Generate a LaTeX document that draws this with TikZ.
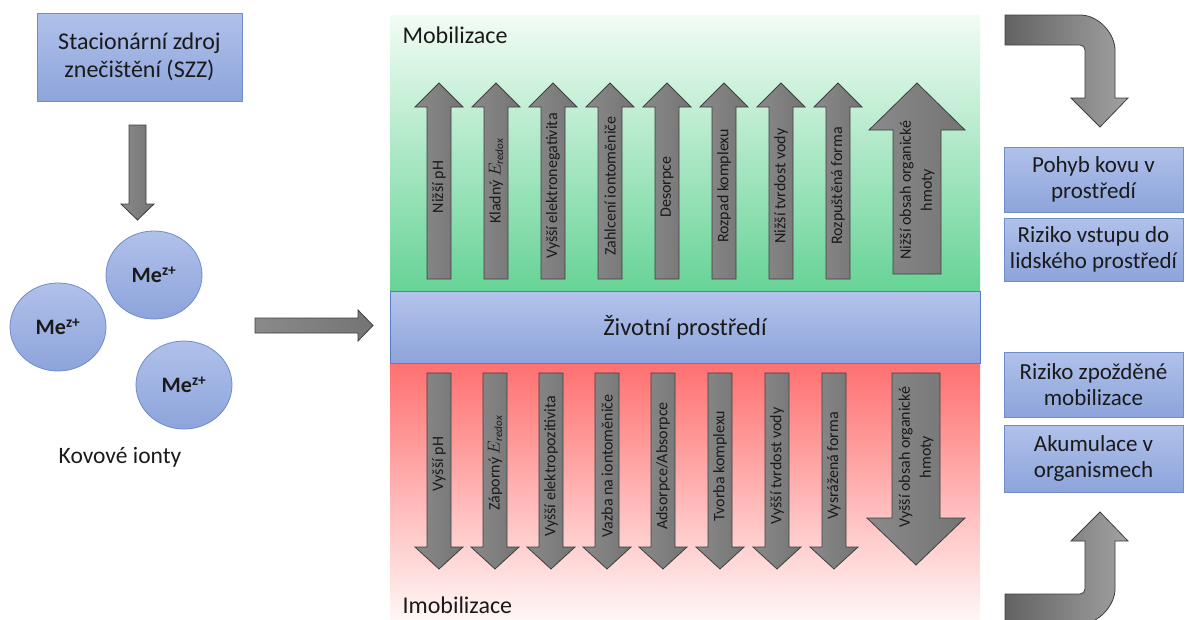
\documentclass[tikz,border=0pt]{standalone}
\usepackage{fontspec}
\setmainfont{Carlito}
\usetikzlibrary{shapes.geometric}
\definecolor{bluetop}{HTML}{B0C1EA}
\definecolor{bluebot}{HTML}{8DA4DB}
\definecolor{blueline}{HTML}{6F8CCB}
\definecolor{bandline}{HTML}{5A7CC6}
\definecolor{greentop}{HTML}{F2FCF5}
\definecolor{greenbot}{HTML}{66D396}
\definecolor{redtop}{HTML}{FF7070}
\definecolor{redbot}{HTML}{FFF6F6}
\definecolor{arrL}{HTML}{8A8A8A}
\definecolor{arrR}{HTML}{747474}
\definecolor{arrline}{HTML}{3F3F3F}
\definecolor{txt}{HTML}{1A1A1A}
\tikzset{
  bluebox/.style={rectangle, draw=blueline, line width=0.8pt, top color=bluetop, bottom color=bluebot, text=txt, align=center, inner sep=0pt},
  ion/.style={ellipse, draw=blueline, line width=0.8pt, top color=bluetop, bottom color=bluebot, text=txt, inner sep=0pt, minimum width=96pt, minimum height=88pt, font=\fontsize{22}{24}\selectfont\bfseries},
  blockarrow/.style={draw=arrline, line width=0.8pt, left color=arrL, right color=arrR},
  curvearrow/.style={draw=arrline, line width=0.8pt, left color=arrR!85!black, right color=arrL!80!white},
  arrlabel/.style={rotate=90, text=txt, align=center, inner sep=0pt, font=\fontsize{16}{21}\selectfont},
  boxtext/.style={font=\fontsize{23}{26}\selectfont},
}
% vertical block arrow: cx, tail y, head-base y, tip y, half shaft, half head
\newcommand{\varrow}[6]{%
  \path[blockarrow] (#1-#5,#2) -- (#1-#5,#3) -- (#1-#6,#3) -- (#1,#4) -- (#1+#6,#3) -- (#1+#5,#3) -- (#1+#5,#2) -- cycle;}
% horizontal block arrow: cy, tail x, head-base x, tip x, half shaft, half head
\newcommand{\harrow}[6]{%
  \path[blockarrow] (#2,#1-#5) -- (#3,#1-#5) -- (#3,#1-#6) -- (#4,#1) -- (#3,#1+#6) -- (#3,#1+#5) -- (#2,#1+#5) -- cycle;}
\begin{document}
\begin{tikzpicture}[x=1pt,y=-1pt]
\useasboundingbox (0,0) rectangle (1187,619);
\fill[white] (0,0) rectangle (1187,619);

% ---------------- left part ----------------
\node[bluebox, minimum width=205pt, minimum height=88pt, font=\fontsize{24}{28}\selectfont] (szz) at (139.5,57) {Stacionární zdroj\\znečištění (SZZ)};
\varrow{137.5}{125}{204}{220}{8.5}{16.5}

\node[ion] (me1) at (154,275) {Me\textsuperscript{z+}};
\node[ion] (me2) at (58,327) {Me\textsuperscript{z+}};
\node[ion] (me3) at (184,385) {Me\textsuperscript{z+}};
\node[text=txt, font=\fontsize{23.5}{26}\selectfont, anchor=base] (kov) at (120,463) {Kovové ionty};

\harrow{325.5}{255}{358}{373}{7.5}{15.5}

% ---------------- central part ----------------
\path[top color=greentop, bottom color=greenbot] (390,15) rectangle (980,291);
\path[top color=redtop, bottom color=redbot] (390,363) rectangle (980,619);
\node[rectangle, draw=bandline, line width=0.8pt, top color=bluetop!95!white, bottom color=bluebot, minimum width=590pt, minimum height=72pt, inner sep=0pt, text=txt, font=\fontsize{24.5}{28}\selectfont] (env) at (685,327) {Životní prostředí};
\node[anchor=base west, text=txt, font=\fontsize{24}{26}\selectfont] (mob) at (399,43) {Mobilizace};
\node[anchor=base west, text=txt, font=\fontsize{24}{26}\selectfont] (imob) at (399,613) {Imobilizace};

% upward arrows (mobilization)
\foreach \cx in {439,496,553,610,667,724,781,838}{\varrow{\cx}{279}{107}{83}{12}{24}}
\varrow{917}{274}{130}{83}{24}{48}
\node[arrlabel] (u1) at (439,187) {Nižší pH};
\node[arrlabel] (u2) at (496,181) {Kladný $E_{\mathit{redox}}$};
\node[arrlabel] (u3) at (553,186) {Vyšší elektronegativita};
\node[arrlabel] (u4) at (610,186) {Zahlcení iontoměniče};
\node[arrlabel] (u5) at (667,187) {Desorpce};
\node[arrlabel] (u6) at (724,186) {Rozpad komplexu};
\node[arrlabel] (u7) at (781,186) {Nižší tvrdost vody};
\node[arrlabel] (u8) at (838,186) {Rozpuštěná forma};
\node[arrlabel] (u9) at (917,190) {Nižší obsah organické\\hmoty};

% downward arrows (immobilization)
\foreach \cx in {439,495,551,607,663,720,777,834}{\varrow{\cx}{373}{547}{569}{12}{24}}
\varrow{916}{373}{518}{565}{24}{49}
\node[arrlabel] (d1) at (439,464) {Vyšší pH};
\node[arrlabel] (d2) at (495,463) {Záporný $E_{\mathit{redox}}$};
\node[arrlabel] (d3) at (551,466) {Vyšší elektropozitivita};
\node[arrlabel] (d4) at (607,466) {Vazba na iontoměniče};
\node[arrlabel] (d5) at (663,466) {Adsorpce/Absorpce};
\node[arrlabel] (d6) at (720,466) {Tvorba komplexu};
\node[arrlabel] (d7) at (777,466) {Vyšší tvrdost vody};
\node[arrlabel] (d8) at (834,466) {Vysrážená forma};
\node[arrlabel] (d9) at (916,457) {Vyšší obsah organické\\hmoty};

% ---------------- right part ----------------
\path[curvearrow] (1005,15) -- (1080,15) .. controls (1099.3,15) and (1115,34.3) .. (1115,50) -- (1115,98) -- (1128,98) -- (1100,127) -- (1071,98) -- (1085,98) -- (1085,50) .. controls (1085,47.2) and (1082.8,45) .. (1080,45) -- (1005,45) -- cycle;
\path[curvearrow] (1005,624) -- (1080,624) .. controls (1099.3,624) and (1115,604.7) .. (1115,589) -- (1115,541) -- (1128,541) -- (1100,512) -- (1071,541) -- (1085,541) -- (1085,589) .. controls (1085,591.8) and (1082.8,594) .. (1080,594) -- (1005,594) -- cycle;

\node[bluebox, boxtext, minimum width=179pt, minimum height=65pt] (r1) at (1093.5,179.5) {Pohyb kovu v\\prostředí};
\node[bluebox, boxtext, minimum width=179pt, minimum height=63pt] (r2) at (1093.5,249.5) {Riziko vstupu do\\lidského prostředí};
\node[bluebox, boxtext, minimum width=179pt, minimum height=65pt] (r3) at (1093.5,384.5) {Riziko zpožděné\\mobilizace};
\node[bluebox, boxtext, minimum width=179pt, minimum height=67pt] (r4) at (1093.5,458.5) {Akumulace v\\organismech};
\end{tikzpicture}
\end{document}
